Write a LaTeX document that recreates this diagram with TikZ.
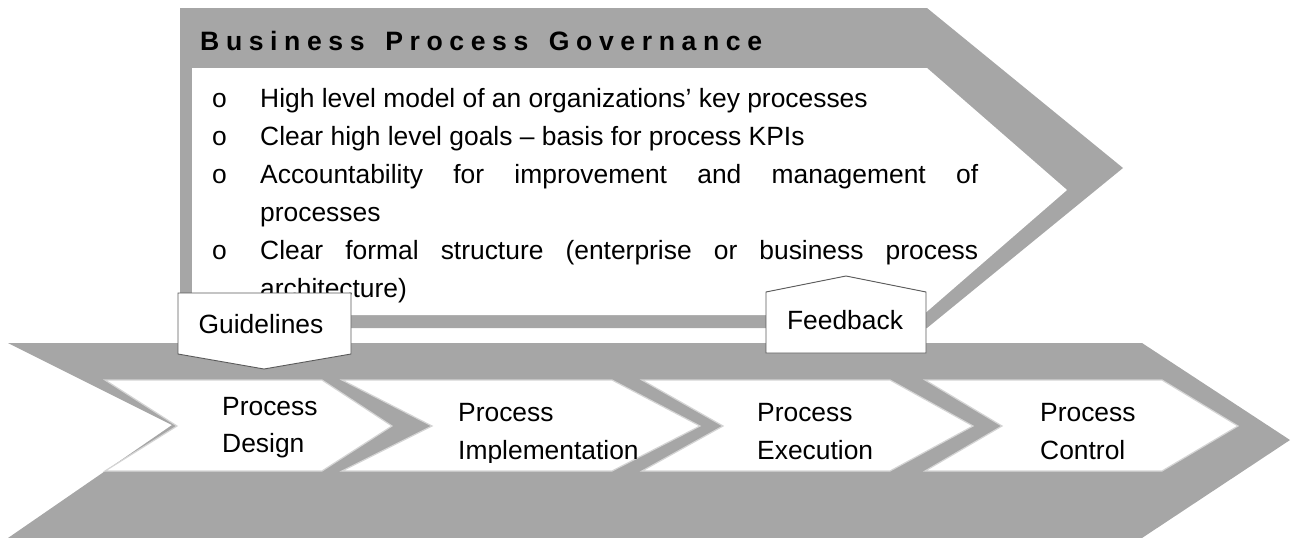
\documentclass[tikz,border=0pt]{standalone}
\usepackage{fontspec}
\setmainfont{Liberation Sans}
\definecolor{bandgray}{RGB}{166,166,166}
\definecolor{edgegray}{RGB}{212,212,212}
\definecolor{boxline}{RGB}{90,90,90}
\makeatletter
\def\lsp#1{\lsp@#1\relax}
\def\lsp@#1{\ifx#1\relax\else#1\hspace{6.6pt}\expandafter\lsp@\fi}
\makeatother
\tikzset{
  txt/.style={anchor=base west, inner sep=0pt, font=\fontsize{26.4pt}{30pt}\selectfont},
  band/.style={fill=bandgray, draw=none},
  stagebox/.style={fill=white, draw=edgegray, line width=1.2pt, line join=miter},
  callout/.style={fill=white, draw=boxline, line width=0.9pt, line join=miter}
}
\begin{document}
\begin{tikzpicture}[x=1pt,y=-1pt]
\useasboundingbox (0,0) rectangle (1293,538);
% governance band
\fill[band] (180,8) -- (927,8) -- (1123,168) -- (927,328) -- (180,328) -- cycle;
\fill[white] (192,68) -- (927,68) -- (1067,190) -- (923,315) -- (192,315) -- cycle;
\node[txt, font=\bfseries\fontsize{26.6pt}{30pt}\selectfont] (title) at (200,50)
  {\lsp{Business}\hspace{14pt}\lsp{Process}\hspace{14pt}\lsp{Governance}};
% bullets
\node[txt] (o1) at (212,107) {o};
\node[txt] (l1) at (260,107) {High level model of an organizations’ key processes};
\node[txt] (o2) at (212,145) {o};
\node[txt] (l2) at (260,145) {Clear high level goals – basis for process KPIs};
\node[txt] (o3) at (212,183) {o};
\node[txt] (l3) at (260,183) {\makebox[718pt][s]{Accountability for improvement and management of}};
\node[txt] (l4) at (260,221) {processes};
\node[txt] (o5) at (212,259) {o};
\node[txt] (l5) at (260,259) {\makebox[718pt][s]{Clear formal structure (enterprise or business process}};
\node[txt] (l6) at (260,297) {architecture)};
% process band
\fill[band] (8,343) -- (1142,343) -- (1290,440) -- (1142,538) -- (8,538) -- (172,425) -- cycle;
\draw[stagebox] (105,380) -- (322,380) -- (392,426) -- (322,471) -- (105,471) -- (177,426) -- cycle;
\draw[stagebox] (342,380) -- (612,380) -- (700,426) -- (612,471) -- (342,471) -- (432,426) -- cycle;
\draw[stagebox] (642,380) -- (890,380) -- (973,426) -- (890,471) -- (642,471) -- (723,426) -- cycle;
\draw[stagebox] (925,380) -- (1162,380) -- (1238,426) -- (1162,471) -- (925,471) -- (1002,426) -- cycle;
\node[txt] (d1) at (222,415) {Process};
\node[txt] (d2) at (222,452) {Design};
\node[txt] (i1) at (458,421) {Process};
\begin{scope}
  \clip (440,430) rectangle (700,462);
  \node[txt] (i2) at (458,459) {Implementation};
\end{scope}
\node[txt] (e1) at (757,421) {Process};
\node[txt] (e2) at (757,459) {Execution};
\node[txt] (c1) at (1040,421) {Process};
\node[txt] (c2) at (1040,459) {Control};
% callouts
\draw[callout] (178,293) -- (351,293) -- (351,354) -- (264,369) -- (178,354) -- cycle;
\node[txt, anchor=base] (guide) at (261,333) {Guidelines};
\draw[callout] (766,292) -- (846,276) -- (926,292) -- (926,353) -- (766,353) -- cycle;
\node[txt, anchor=base] (feed) at (845,329) {Feedback};
\end{tikzpicture}
\end{document}
